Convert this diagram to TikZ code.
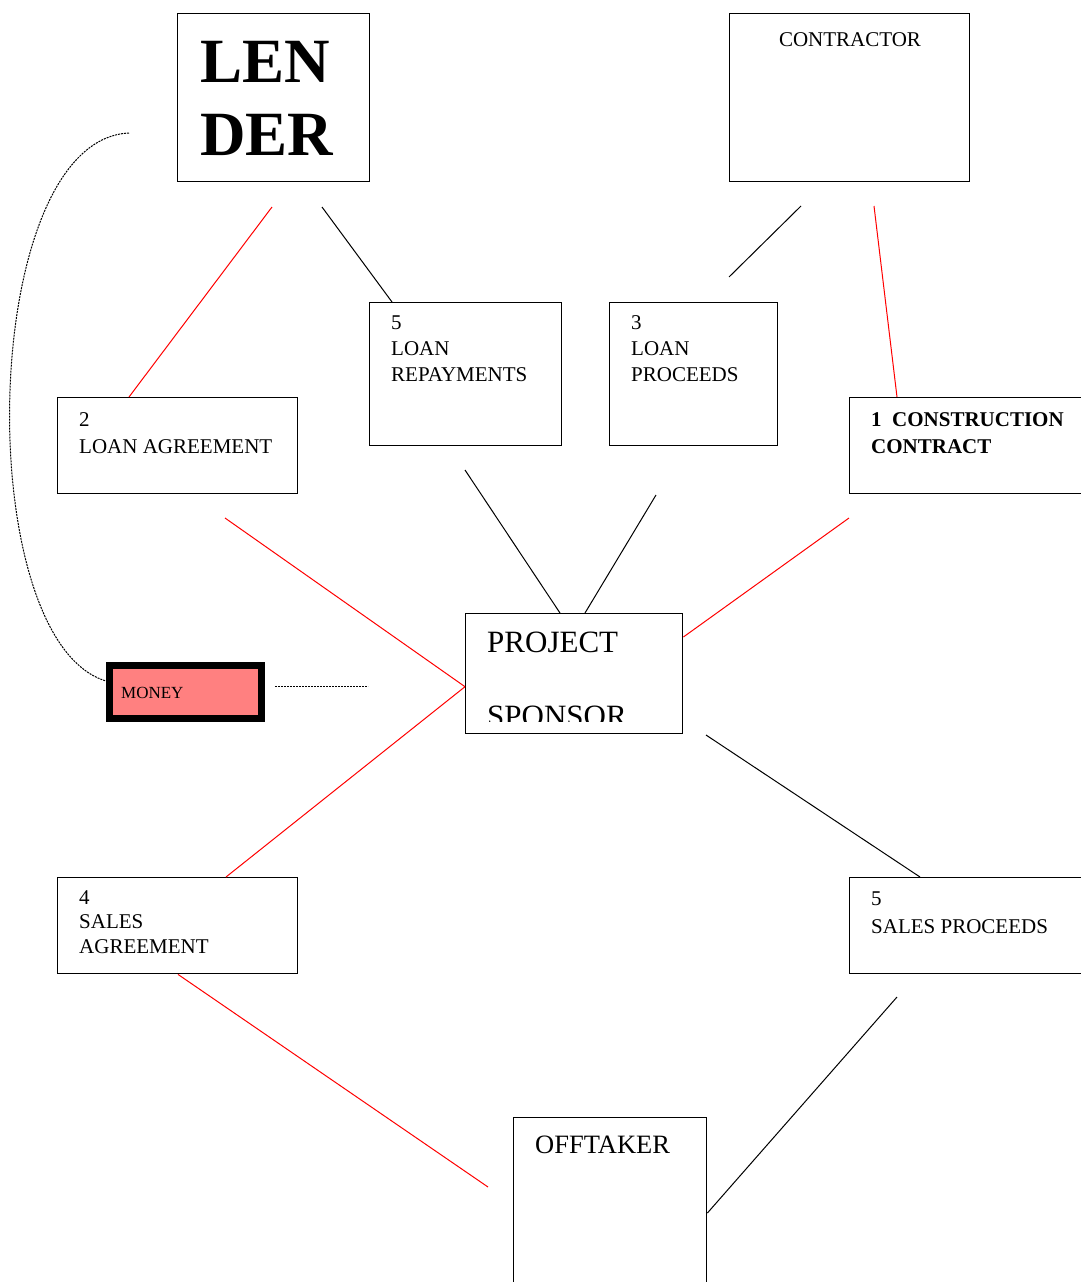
\documentclass[tikz,border=0pt]{standalone}
\usepackage{fontspec}
\setmainfont{Liberation Serif}
\definecolor{moneypink}{RGB}{255,128,128}

\tikzset{
  box/.style={draw, line width=1.4pt, rectangle, inner sep=0pt, anchor=north west},
  txt/.style={inner sep=0pt, align=left, anchor=base west, font=\fontsize{21}{26}\selectfont},
  redline/.style={draw=red, line width=1pt},
  blackline/.style={draw=black, line width=1pt},
  dotline/.style={draw=black, line width=1pt, dash pattern=on 2pt off 1pt}
}

\begin{document}
\begin{tikzpicture}[x=1pt,y=-1pt]
  \clip (0,0) rectangle (1081,1282);

  % parties
  \node[box, minimum width=192pt, minimum height=168pt] (lender) at (177,13) {};
  \node[txt, font=\bfseries\fontsize{63}{73}\selectfont] (lender-t) at (200,155) {LEN\\DER};

  \node[box, minimum width=240pt, minimum height=168pt] (contr) at (729,13) {};
  \node[txt, anchor=base] (contr-t) at (850,46) {CONTRACTOR};

  \node[box, minimum width=217pt, minimum height=120pt] (ps) at (465,613) {};
  \begin{scope}
    \clip (465,613) rectangle (682,721);
    \node[txt, font=\fontsize{31}{74}\selectfont] (ps-t) at (487,726) {PROJECT\\SPONSOR};
  \end{scope}

  \node[box, minimum width=193pt, minimum height=200pt] (off) at (513,1117) {};
  \node[txt, font=\fontsize{26.5}{30}\selectfont] (off-t) at (535,1153) {OFFTAKER};

  % contracts and flows
  \node[box, minimum width=240pt, minimum height=96pt] (la) at (57,397) {};
  \node[txt, font=\fontsize{21}{27}\selectfont] (la-t) at (79,453) {2\\LOAN AGREEMENT};

  \node[box, minimum width=192pt, minimum height=143pt] (rep) at (369,302) {};
  \node[txt] (rep-t) at (391,381) {5\\LOAN\\REPAYMENTS};

  \node[box, minimum width=168pt, minimum height=143pt] (pro) at (609,302) {};
  \node[txt] (pro-t) at (631,381) {3\\LOAN\\PROCEEDS};

  \node[box, minimum width=250pt, minimum height=96pt] (cc) at (849,397) {};
  \node[txt, font=\bfseries\fontsize{21}{26.5}\selectfont] (cc-t) at (871,453) {1\ \ CONSTRUCTION\\CONTRACT};

  \node[box, minimum width=240pt, minimum height=96pt] (sa) at (57,877) {};
  \node[txt, font=\fontsize{21}{24.5}\selectfont] (sa-t) at (79,953) {4\\SALES\\AGREEMENT};

  \node[box, minimum width=250pt, minimum height=96pt] (sp) at (849,877) {};
  \node[txt, font=\fontsize{21}{28}\selectfont] (sp-t) at (871,933) {5\\SALES PROCEEDS};

  % money
  \node[box, line width=7pt, fill=moneypink, minimum width=152pt, minimum height=53pt] (money) at (106,662) {};
  \node[txt, font=\fontsize{17}{20}\selectfont] (money-t) at (121,698) {MONEY};

  % free ends
  \coordinate (lend-l) at (272,207);
  \coordinate (lend-r) at (322,207);
  \coordinate (lend-w) at (129,133);
  \coordinate (contr-l) at (801,206);
  \coordinate (contr-r) at (874,206);
  \coordinate (pro-up) at (729,277);
  \coordinate (la-low) at (225,518);
  \coordinate (rep-low) at (465,470);
  \coordinate (pro-low) at (656,495);
  \coordinate (cc-low) at (849,518);
  \coordinate (ps-low) at (706,735);
  \coordinate (sp-low) at (897,997);
  \coordinate (off-up) at (488,1187);
  \coordinate (money-r) at (275,686);
  \coordinate (ps-w) at (368,686);

  % connectors
  \draw[redline] (lend-l) -- ([xshift=72pt]la.north west);
  \draw[blackline] (lend-r) -- ([xshift=23pt]rep.north west);
  \draw[blackline] (contr-l) -- (pro-up);
  \draw[redline] (contr-r) -- ([xshift=48pt]cc.north west);
  \draw[redline] (la-low) -- ([yshift=-13pt]ps.west);
  \draw[blackline] (rep-low) -- ([xshift=95pt]ps.north west);
  \draw[blackline] (pro-low) -- ([xshift=120pt]ps.north west);
  \draw[redline] (cc-low) -- ([yshift=-24pt]ps.north east);
  \draw[redline] ([yshift=-13pt]ps.west) -- ([xshift=169pt]sa.north west);
  \draw[blackline] (ps-low) -- ([xshift=71pt]sp.north west);
  \draw[redline] ([xshift=121pt]sa.south west) -- (off-up);
  \draw[blackline] (sp-low) -- ([yshift=-96pt]off.north east);
  \draw[dotline] (money-r) -- (ps-w);
  \draw[dotline] (lend-w) .. controls (-22,140) and (-30,640) .. ([yshift=11pt]money.west);
\end{tikzpicture}
\end{document}
